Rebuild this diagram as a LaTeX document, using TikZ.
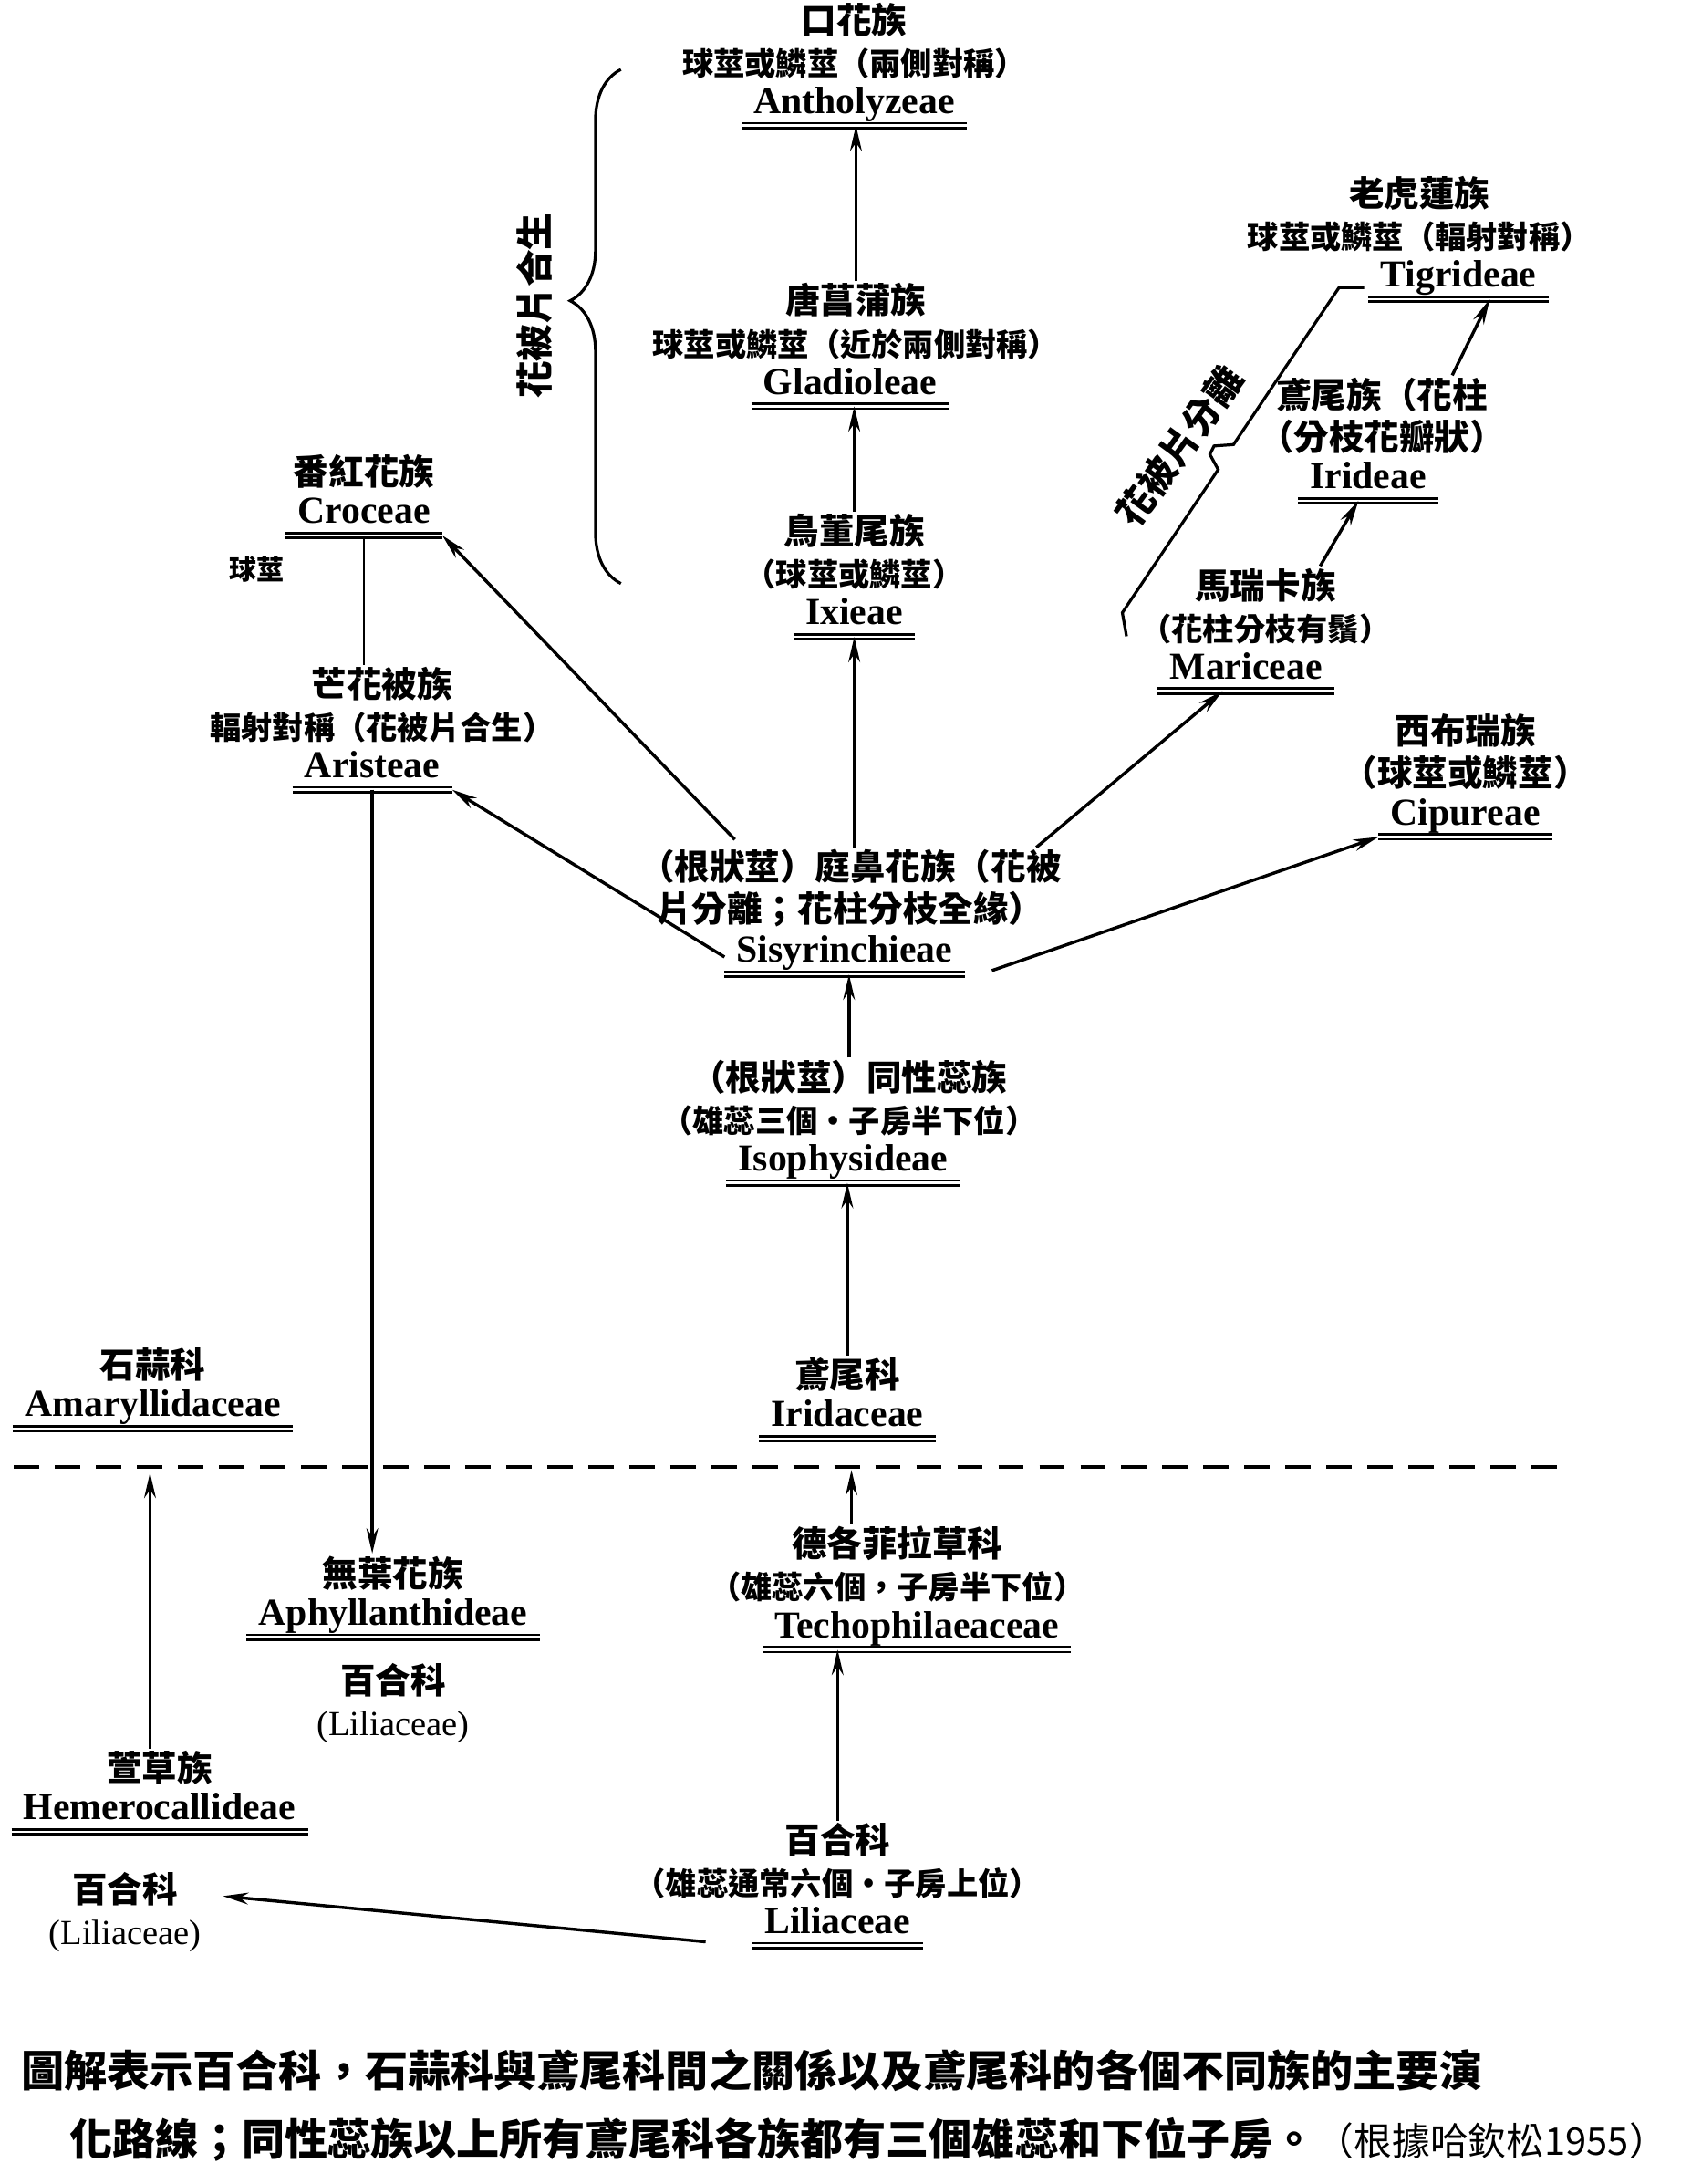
\documentclass[tikz,border=0pt]{standalone}
\usepackage{fontspec}
\setmainfont{Liberation Serif}
\newfontfamily\cjk{Noto Sans CJK TC}
\usepackage{tikz}
\usetikzlibrary{positioning}
\usetikzlibrary{arrows.meta}
\usetikzlibrary{decorations.pathreplacing}

\newcommand\cnbig{\fontsize{18}{21.5}\selectfont}
\newcommand\lfont{\normalfont\fontsize{18}{21.5}\selectfont}

\tikzset{
    lat/.style={font=\bfseries\fontsize{19.5}{23}\selectfont, inner xsep=6pt, inner ysep=2pt, text height=13.5pt, text depth=4pt},
    cn/.style={font=\cjk\bfseries\fontsize{16}{21.5}\selectfont, align=center, inner sep=1pt},
    uline/.style={line width=1.3pt, double, double distance=1.2pt},
    link/.style={line width=1.6pt, -{Stealth[length=13pt, width=6pt]}},
    tie/.style={line width=1.3pt},
    captext/.style={font=\cjk\bfseries\fontsize{22}{26}\selectfont, inner sep=0pt, anchor=west},
}

\begin{document}
\begin{tikzpicture}[x=0.025cm, y=-0.025cm]
        \useasboundingbox (0,0) rectangle (1210,1572);
        \fill[white] (0,0) rectangle (1210,1572);

        % middle column
        \node(anth) [lat] at (615, 75) {Antholyzeae};
        \node(anth-cn) [cn, above=1pt of anth] {{\cnbig 口花族}\\球莖或鱗莖（兩側對稱）};

        \node(glad) [lat] at (612, 277) {Gladioleae};
        \node(glad-cn) [cn, above=1pt of glad, xshift=3pt] {{\cnbig 唐菖蒲族}\\球莖或鱗莖（近於兩側對稱）};

        \node(ixie) [lat] at (615, 443) {Ixieae};
        \node(ixie-cn) [cn, above=1pt of ixie] {{\cnbig 鳥董尾族}\\（球莖或鱗莖）};

        \node(sisy) [lat] at (608, 686) {Sisyrinchieae};
        \node(sisy-cn) [cn, above=1pt of sisy, xshift=3pt] {{\cnbig （根狀莖）庭鼻花族（花被}\\{\cnbig 片分離；花柱分枝全緣）}};

        \node(isop) [lat] at (607, 836) {Isophysideae};
        \node(isop-cn) [cn, above=1pt of isop, xshift=3pt] {{\cnbig （根狀莖）同性蕊族}\\（雄蕊三個・子房半下位）};

        \node(irfam) [lat] at (610, 1020) {Iridaceae};
        \node(irfam-cn) [cn, above=1pt of irfam] {\cnbig 鳶尾科};

        % left column
        \node(croc) [lat] at (262, 370) {Croceae};
        \node(croc-cn) [cn, above=1pt of croc] {\cnbig 番紅花族};
        \node(bulb) [cn, font=\cjk\bfseries\fontsize{14}{16}\selectfont] at (185, 410) {球莖};

        \node(aris) [lat] at (268, 553) {Aristeae};
        \node(aris-cn) [cn, above=1pt of aris, xshift=5pt] {{\cnbig 芒花被族}\\輻射對稱（花被片合生）};

        % right column
        \node(tigr) [lat] at (1050, 200) {Tigrideae};
        \node(tigr-cn) [cn, above=1pt of tigr, xshift=-20pt] {{\cnbig 老虎蓮族}\\球莖或鱗莖（輻射對稱）};

        \node(irid) [lat] at (985, 345) {Irideae};
        \node(irid-cn) [cn, above=1pt of irid, xshift=7pt] {{\cnbig 鳶尾族（花柱}\\{\cnbig （分枝花瓣狀）}};

        \node(mari) [lat] at (897, 482) {Mariceae};
        \node(mari-cn) [cn, above=1pt of mari, xshift=10pt] {{\cnbig 馬瑞卡族}\\（花柱分枝有鬚）};

        \node(cipu) [lat] at (1055, 587) {Cipureae};
        \node(cipu-cn) [cn, above=1pt of cipu] {{\cnbig 西布瑞族}\\{\cnbig （球莖或鱗莖）}};

        % below the family line
        \node(amar) [lat] at (110, 1013) {Amaryllidaceae};
        \node(amar-cn) [cn, above=1pt of amar] {\cnbig 石蒜科};

        \node(teco) [lat] at (660, 1172) {Techophilaeaceae};
        \node(teco-cn) [cn, above=1pt of teco, xshift=-10pt] {{\cnbig 德各菲拉草科}\\（雄蕊六個，子房半下位）};

        \node(aphy) [lat] at (283, 1163) {Aphyllanthideae};
        \node(aphy-cn) [cn, above=1pt of aphy] {\cnbig 無葉花族};
        \node(aphy-fam) [cn, below=12pt of aphy] {{\cnbig 百合科}\\{\lfont (Liliaceae)}};

        \node(heme) [lat] at (115, 1303) {Hemerocallideae};
        \node(heme-cn) [cn, above=1pt of heme] {\cnbig 萱草族};

        \node(lili) [lat] at (603, 1385) {Liliaceae};
        \node(lili-cn) [cn, above=1pt of lili] {{\cnbig 百合科}\\（雄蕊通常六個・子房上位）};

        \node(lili-l) [cn] at (90, 1376) {{\cnbig 百合科}\\{\lfont (Liliaceae)}};

        % double underlines
        \draw[uline] (anth.south west) -- (anth.south east);
        \draw[uline] (glad.south west) -- (glad.south east);
        \draw[uline] (ixie.south west) -- (ixie.south east);
        \draw[uline] (sisy.south west) -- (sisy.south east);
        \draw[uline] (isop.south west) -- (isop.south east);
        \draw[uline] (irfam.south west) -- (irfam.south east);
        \draw[uline] (croc.south west) -- (croc.south east);
        \draw[uline] (aris.south west) -- (aris.south east);
        \draw[uline] (tigr.south west) -- (tigr.south east);
        \draw[uline] (irid.south west) -- (irid.south east);
        \draw[uline] (mari.south west) -- (mari.south east);
        \draw[uline] (cipu.south west) -- (cipu.south east);
        \draw[uline] (amar.south west) -- (amar.south east);
        \draw[uline] (teco.south west) -- (teco.south east);
        \draw[uline] (aphy.south west) -- (aphy.south east);
        \draw[uline] (heme.south west) -- (heme.south east);
        \draw[uline] (lili.south west) -- (lili.south east);

        % braces
        \draw[line width=1.5pt, decorate, decoration={brace, amplitude=26pt, aspect=0.55}] (447, 420) -- (447, 50);
        \node(fused) [rotate=90, inner sep=0pt, font=\cjk\bfseries\fontsize{19}{22}\selectfont] at (385, 220) {花被片合生};

        \draw[line width=1.5pt] (982, 207) -- (964, 207) -- (888, 320) -- (874, 321) -- (871, 327) -- (877, 338) -- (808, 441) -- (811, 458);
        \node(free) [rotate=54, inner sep=0pt, font=\cjk\bfseries\fontsize{19}{22}\selectfont] at (849, 321) {花被片分離};

        % family line
        \draw[line width=2pt, dash pattern=on 13pt off 8pt] (10, 1056) -- (1125, 1056);
        \coordinate(dash-t) at (613, 1058);
        \coordinate(dash-h) at (108, 1060);

        % connectors
        \draw[link] (glad-cn.north) -- (glad-cn.north |- anth.south);
        \draw[link] (ixie-cn.north) -- (ixie-cn.north |- glad.south);
        \draw[link] (ixie.south |- sisy-cn.north) -- (ixie.south);
        \draw[link] (isop-cn.north) -- (isop-cn.north |- sisy.south);
        \draw[link] (irfam-cn.north) -- (irfam-cn.north |- isop.south);

        \draw[link] ([xshift=50pt, yshift=4pt]sisy-cn.north west) -- (croc.south east);
        \draw[link] ([yshift=-2pt]sisy.west) -- (aris.south east);
        \draw[link] ([xshift=-14pt]sisy-cn.north east) -- ([xshift=-12pt]mari.south);
        \draw[link] ([xshift=14pt, yshift=2pt]sisy.south east) -- (cipu.south west);

        \draw[link] ([xshift=28pt]mari-cn.north) -- ([xshift=-5pt]irid.south);
        \draw[link] ([xshift=36pt]irid-cn.north) -- ([xshift=16pt]tigr.south);

        \draw[tie] (croc.south) -- (croc.south |- aris-cn.north);
        \draw[link] (aris.south) -- (aris.south |- aphy-cn.north);

        \draw[link] (teco-cn.north -| dash-t) -- (dash-t);
        \draw[link] (lili-cn.north) -- (lili-cn.north |- teco.south);
        \draw[link] (heme-cn.north -| dash-h) -- (dash-h);
        \draw[link] ([xshift=-24pt, yshift=-9pt]lili.west) -- ([xshift=10pt, yshift=8pt]lili-l.east);

        % caption
        \node(cap1) [captext] at (15, 1490) {圖解表示百合科，石蒜科與鳶尾科間之關係以及鳶尾科的各個不同族的主要演};
        \node(cap2) [captext] at (50, 1540) {化路線；同性蕊族以上所有鳶尾科各族都有三個雄蕊和下位子房。{\mdseries\fontsize{19.5}{22}\selectfont（根據哈欽松1955）}};
    \end{tikzpicture}
\end{document}
